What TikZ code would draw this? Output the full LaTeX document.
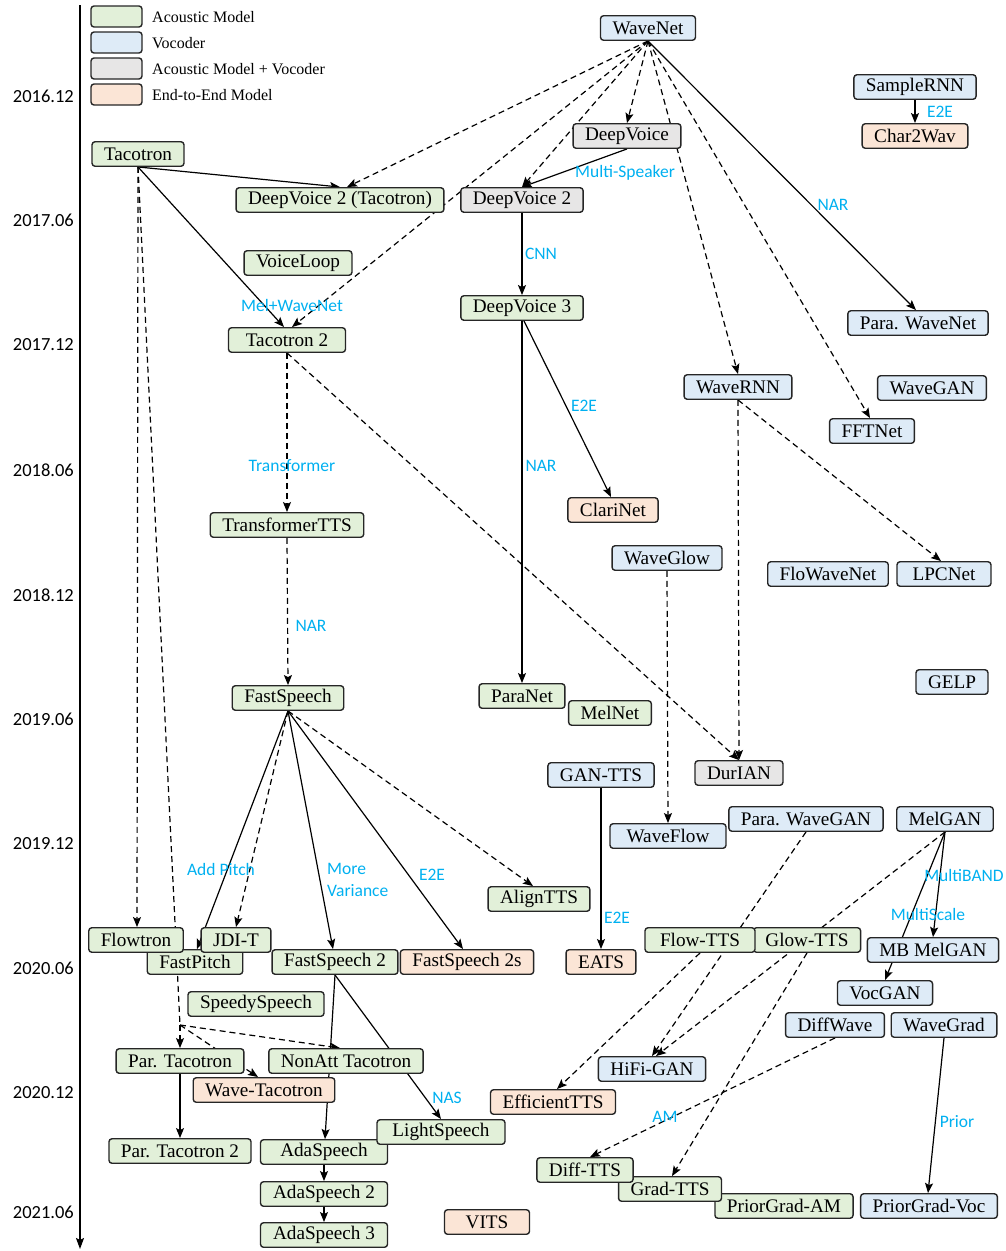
\documentclass[tikz,border=0pt]{standalone}
\usepackage{fontspec}
\setmainfont{Liberation Serif}
\newfontfamily\calibri{Carlito}
\usetikzlibrary{calc,arrows.meta,backgrounds}

\definecolor{amgreen}{HTML}{E2F0D9}
\definecolor{vocblue}{HTML}{DEEBF7}
\definecolor{bothgray}{HTML}{E7E6E6}
\definecolor{etepeach}{HTML}{FBE5D6}
\definecolor{labelblue}{HTML}{00B0F0}

\begin{document}
\begin{tikzpicture}[x=1pt,y=-1pt,
  model/.style={draw=black!85,line width=1.4pt,rectangle,rounded corners=3pt,minimum height=24.5pt,inner xsep=12pt,inner ysep=0pt,font=\fontsize{19.2}{21}\selectfont},
  am/.style={model,fill=amgreen},
  voc/.style={model,fill=vocblue},
  amvoc/.style={model,fill=bothgray},
  e2e/.style={model,fill=etepeach},
  edgelabel/.style={text=labelblue,font=\calibri\fontsize{17.5}{22}\selectfont,inner sep=0pt},
  year/.style={font=\calibri\fontsize{18.5}{20}\selectfont,anchor=east,inner sep=0pt},
  keytext/.style={font=\fontsize{16}{18}\selectfont,anchor=west,inner sep=0pt},
  link/.style={line width=1.2pt,-{Stealth[length=10pt,width=8pt,inset=2pt]}},
  dashlink/.style={link,dash pattern=on 6pt off 4pt}]

\useasboundingbox (0,0) rectangle (1005,1251);

\coordinate (axistop) at (80,5);
\coordinate (axisend) at (80,1249);
\draw[line width=1.3pt,-{Stealth[length=11pt,width=8pt,inset=2pt]}] (axistop) -- (axisend);
\foreach \yy/\yr [count=\i] in {96/2016.12,220/2017.06,345/2017.12,470/2018.06,595/2018.12,719/2019.06,844/2019.12,968/2020.06,1093/2020.12,1212/2021.06}
  \node[year] (year\i) at (74,\yy) {\yr};

\foreach \sty/\txt [count=\i] in {am/Acoustic Model,voc/Vocoder,amvoc/Acoustic Model + Vocoder,e2e/End-to-End Model}{
  \node[\sty,minimum width=51pt,minimum height=21pt,inner xsep=0pt] (key\i) at (116.5,16.5+26*\i-26) {};
  \node[keytext] (keytext\i) at (152,17+26*\i-26) {\txt};
}

\node[voc] (wavenet) at (648,28) {WaveNet};
\node[voc] (samplernn) at (915,87) {SampleRNN};
\node[e2e] (chartowav) at (915,136) {Char2Wav};
\node[amvoc] (deepvoice) at (627,136) {DeepVoice};
\node[am] (tacotron) at (138,154) {Tacotron};
\node[am] (dvtwotac) at (340,200) {DeepVoice 2 (Tacotron)};
\node[amvoc] (dvtwo) at (522,200) {DeepVoice 2};
\node[am] (voiceloop) at (298,263) {VoiceLoop};
\node[am] (dvthree) at (522,308) {DeepVoice 3};
\node[am,minimum width=117pt] (tacotwo) at (287,340) {Tacotron 2};
\node[voc] (parawavenet) at (918,323) {Para. WaveNet};
\node[voc] (wavernn) at (738,387) {WaveRNN};
\node[voc] (wavegan) at (932,388) {WaveGAN};
\node[voc] (fftnet) at (872,431) {FFTNet};
\node[e2e] (clarinet) at (613,510) {ClariNet};
\node[am] (transtts) at (287,525) {TransformerTTS};
\node[voc] (waveglow) at (667,558) {WaveGlow};
\node[voc] (flowavenet) at (828,574) {FloWaveNet};
\node[voc,minimum width=94pt] (lpcnet) at (944,574) {LPCNet};
\node[voc] (gelp) at (952,682) {GELP};
\node[am] (fastspeech) at (288,698) {FastSpeech};
\node[am] (paranet) at (522,696) {ParaNet};
\node[am] (melnet) at (610,713) {MelNet};
\node[voc] (gantts) at (601,775) {GAN-TTS};
\node[amvoc] (durian) at (739,773) {DurIAN};
\node[voc,minimum width=116pt] (waveflow) at (668,836) {WaveFlow};
\node[voc] (parawavegan) at (806,819) {Para. WaveGAN};
\node[voc] (melgan) at (945,819) {MelGAN};
\node[am] (aligntts) at (539,899) {AlignTTS};
\node[am] (fastpitch) at (195,962) {FastPitch};
\node[am] (flowtron) at (136,940) {Flowtron};
\node[am] (jdit) at (236,940) {JDI-T};
\node[am] (fastspeechtwo) at (335,962) {FastSpeech 2};
\node[e2e] (fastspeechtwos) at (467,962) {FastSpeech 2s};
\node[am] (glowtts) at (807,940) {Glow-TTS};
\node[am,minimum width=110pt] (flowtts) at (700,940) {Flow-TTS};
\node[voc] (mbmelgan) at (933,950) {MB MelGAN};
\node[e2e] (eats) at (601,962) {EATS};
\node[voc] (vocgan) at (885,993) {VocGAN};
\node[am] (speedyspeech) at (256,1004) {SpeedySpeech};
\node[voc] (diffwave) at (835,1025) {DiffWave};
\node[voc] (wavegrad) at (944,1025) {WaveGrad};
\node[am] (partaco) at (180,1061) {Par. Tacotron};
\node[am] (nonatt) at (346,1061) {NonAtt Tacotron};
\node[e2e] (wavetaco) at (264,1090) {Wave-Tacotron};
\node[voc] (hifigan) at (652,1069) {HiFi-GAN};
\node[e2e] (efficienttts) at (553,1102) {EfficientTTS};
\node[am,minimum width=127pt] (adaspeech) at (324,1152) {AdaSpeech};
\node[am,minimum width=128pt] (lightspeech) at (441,1132) {LightSpeech};
\node[am] (partacotwo) at (180,1151) {Par. Tacotron 2};
\node[am] (priorgradam) at (784,1206) {PriorGrad-AM};
\node[am] (gradtts) at (670,1189) {Grad-TTS};
\node[am] (difftts) at (585,1170) {Diff-TTS};
\node[voc] (priorgradvoc) at (929,1206) {PriorGrad-Voc};
\node[am,minimum width=127pt] (adaspeechtwo) at (324,1194) {AdaSpeech 2};
\node[e2e,minimum width=85pt] (vits) at (487,1222) {VITS};
\node[am,minimum width=127pt] (adaspeechthree) at (324,1235) {AdaSpeech 3};

\node[edgelabel] (lblchar) at (940,112) {E2E};
\node[edgelabel] (lblmulti) at (625,173) {Multi-Speaker};
\node[edgelabel] (lblnarpw) at (833,205) {NAR};
\node[edgelabel] (lblcnn) at (541,254) {CNN};
\node[edgelabel] (lblmelwave) at (292,305) {Mel+WaveNet};
\node[edgelabel] (lblclari) at (584,406) {E2E};
\node[edgelabel] (lblnarpara) at (541,466) {NAR};
\node[edgelabel] (lbltrans) at (292,466) {Transformer};
\node[edgelabel] (lblnarfs) at (311,626) {NAR};
\node[edgelabel] (lblpitch) at (221,869) {Add Pitch};
\node[edgelabel,align=left,anchor=west] (lblvariance) at (327,880) {More\\Variance};
\node[edgelabel] (lblfstwos) at (432,875) {E2E};
\node[edgelabel] (lblband) at (964,875) {MultiBAND};
\node[edgelabel] (lblscale) at (928,914) {MultiScale};
\node[edgelabel] (lbleats) at (617,918) {E2E};
\node[edgelabel] (lblnas) at (447,1098) {NAS};
\node[edgelabel] (lblam) at (665,1117) {AM};
\node[edgelabel] (lblprior) at (957,1122) {Prior};

\begin{scope}[on background layer]
\draw[dashlink] (wavenet.south) -- ($(dvtwotac.north)+(7,0)$);
\draw[dashlink] (wavenet.south) -- (dvtwo.north);
\draw[dashlink] (wavenet.south) -- ($(tacotwo.north)+(5,0)$);
\draw[dashlink] (wavenet.south) -- (deepvoice.north);
\draw[dashlink] (wavenet.south) -- (wavernn.north);
\draw[dashlink] (wavenet.south) -- ($(fftnet.north)-(2,0)$);
\draw[link] (wavenet.south) -- ($(parawavenet.north)-(2,0)$);
\draw[link] (samplernn.south) -- (chartowav.north);

\draw[link] (tacotron.south) -- (dvtwotac.north);
\draw[link] (tacotron.south) -- ($(tacotwo.north)-(3,0)$);
\draw[dashlink] (tacotron.south) -- ($(flowtron.north)+(1,0)$);
\coordinate (split) at (180,1025);
\draw[dashlink,-] (tacotron.south) -- (split);
\draw[dashlink] (split) -- (partaco.north);
\draw[dashlink] (split) -- ($(nonatt.north)-(6,0)$);
\draw[dashlink] (split) -- ($(wavetaco.north)-(6,0)$);

\draw[dashlink] (tacotwo.south) -- (transtts.north);
\draw[dashlink] (tacotwo.south) -- (durian.north);
\draw[dashlink] (transtts.south) -- (fastspeech.north);

\draw[link] (fastspeech.south) -- ($(fastpitch.north)+(2,0)$);
\draw[dashlink] (fastspeech.south) -- (jdit.north);
\draw[link] (fastspeech.south) -- ($(fastspeechtwo.north)-(2,0)$);
\draw[link] (fastspeech.south) -- ($(fastspeechtwos.north)-(4,0)$);
\draw[dashlink] (fastspeech.south) -- ($(aligntts.north)-(6,0)$);

\draw[link] (deepvoice.south) -- (dvtwo.north);
\draw[link] (dvtwo.south) -- (dvthree.north);
\draw[link] (dvthree.south) -- (paranet.north);
\draw[link] ($(dvthree.south)+(2,0)$) -- ($(clarinet.north)-(2,0)$);

\draw[dashlink] (wavernn.south) -- (durian.north);
\draw[dashlink] (wavernn.south) -- ($(lpcnet.north)-(3,0)$);
\draw[dashlink] (waveglow.south) -- (waveflow.north);
\draw[link] (gantts.south) -- (eats.north);

\draw[link] (melgan.south) -- (mbmelgan.north);
\draw[link] (melgan.south) -- (vocgan.north);
\draw[dashlink] (melgan.south) -- ($(hifigan.north)+(4,0)$);
\draw[dashlink] (parawavegan.south) -- (hifigan.north);
\draw[dashlink] (flowtts.south) -- ($(efficienttts.north)+(4,0)$);
\draw[dashlink] (glowtts.south) -- ($(gradtts.north)+(2,0)$);
\draw[dashlink] (diffwave.south) -- ($(difftts.north)+(5,0)$);
\draw[link] (wavegrad.south) -- ($(priorgradvoc.north)-(1,0)$);

\draw[link] (fastspeechtwo.south) -- ($(adaspeech.north)+(1,0)$);
\draw[link] (fastspeechtwo.south) -- (lightspeech.north);
\draw[link] (adaspeech.south) -- (adaspeechtwo.north);
\draw[link] (adaspeechtwo.south) -- (adaspeechthree.north);
\draw[link] (partaco.south) -- (partacotwo.north);
\end{scope}

\end{tikzpicture}
\end{document}
